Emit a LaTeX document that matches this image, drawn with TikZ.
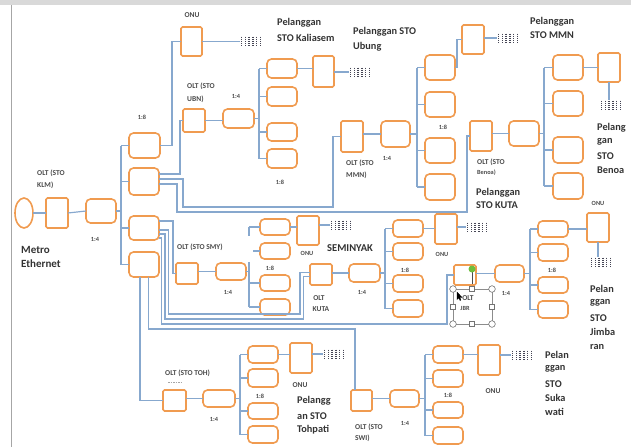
\documentclass[tikz,border=0pt]{standalone}
\usepackage{fontspec}
\setmainfont{Carlito}
\usetikzlibrary{calc,shapes.geometric}
\definecolor{org}{RGB}{240,155,80}
\definecolor{lnc}{RGB}{135,168,206}
\definecolor{txt}{RGB}{75,75,75}
\definecolor{dotc}{RGB}{70,70,85}
\definecolor{grn}{RGB}{110,190,60}
\newcommand\bx[6]{\node[#1,minimum width={(#5-#3)*1pt},minimum height={(#6-#4)*1pt}] (#2) at ({(#3+#5)/2},{(#4+#6)/2}) {};}
\newcommand\cu[3]{\node[cust] (#1) at (#2,#3) {};}
\begin{document}
\begin{tikzpicture}[x=1pt,y=-1pt,
 spl/.style={draw=org,line width=1.6pt,rounded corners=4.5pt,inner sep=0,outer sep=0,fill=white},
 onub/.style={draw=org,line width=1.6pt,rounded corners=1.5pt,inner sep=0,outer sep=0,fill=white},
 ln/.style={draw=lnc,line width=1.2pt},
 lbl/.style={text=txt,font=\fontsize{7.5}{8}\selectfont\bfseries,inner sep=0},
 tiny/.style={text=txt,font=\fontsize{6.3}{7}\selectfont\bfseries,inner sep=0},
 big/.style={text=black!80,font=\fontsize{10.3}{12}\selectfont\bfseries,inner sep=0,anchor=west},
 cust/.style={minimum width=22pt,minimum height=10pt,inner sep=0,outer sep=0,fill=white,
   path picture={\foreach \i in {0,...,5}{\draw[dotc,line width=1.4pt,dash pattern=on 1.3pt off 0.9pt]
     ([xshift={1.5pt+\i*3.8pt},yshift=-0.5pt]path picture bounding box.north west) --
     ([xshift={1.5pt+\i*3.8pt},yshift=0.5pt]path picture bounding box.south west);}}},
 hnd/.style={draw=black!55,line width=0.6pt,fill=white}]
\useasboundingbox (0,0) rectangle (631,447);
\fill[black!15] (0,0) rectangle (631,5);
\draw[black!35,line width=1pt] (11,5) -- (11,447);

% ---------- boxes ----------
\node[draw=org,line width=1.6pt,ellipse,minimum width=18pt,minimum height=30pt,inner sep=0,outer sep=0] (me) at (24,213) {};
\bx{onub}{klm}{46}{198}{68}{228}
\bx{spl}{k14}{86}{199}{116}{223}
\bx{spl}{kb1}{129}{133}{160}{158}
\bx{spl}{kb2}{129}{168}{159}{195}
\bx{spl}{kb3}{129}{216}{159}{240}
\bx{spl}{kb4}{129}{252}{159}{277}
\bx{onub}{onutop}{181}{27}{202}{56}
% UBN
\bx{onub}{ubn}{183}{109}{205}{132}
\bx{spl}{u14}{223}{109}{254}{128}
\bx{spl}{u1}{267}{59}{297}{78}
\bx{spl}{u2}{267}{87}{297}{106}
\bx{spl}{u3}{267}{123}{297}{141}
\bx{spl}{u4}{267}{149}{297}{168}
\bx{onub}{uonu}{313}{56}{334}{87}
% MMN
\bx{onub}{mmn}{341}{121}{363}{152}
\bx{spl}{m14}{381}{121}{410}{147}
\bx{spl}{m1}{425}{55}{455}{80}
\bx{spl}{m2}{425}{92}{455}{117}
\bx{spl}{m3}{425}{138}{455}{163}
\bx{spl}{m4}{425}{174}{455}{200}
\bx{onub}{monu}{462}{25}{484}{54}
% Benoa
\bx{onub}{ben}{470}{121}{492}{151}
\bx{spl}{b14}{509}{121}{539}{146}
\bx{spl}{be1}{553}{55}{583}{80}
\bx{spl}{be2}{553}{91}{583}{116}
\bx{spl}{be3}{553}{137}{583}{163}
\bx{spl}{be4}{553}{173}{583}{199}
\bx{onub}{bonu}{598}{53}{620}{82}
% SMY
\bx{onub}{smy}{176}{263}{198}{284}
\bx{spl}{s14}{216}{263}{246}{280}
\bx{spl}{s1}{260}{219}{290}{235}
\bx{spl}{s2}{260}{243}{290}{259}
\bx{spl}{s3}{260}{275}{290}{291}
\bx{spl}{s4}{260}{299}{290}{315}
\bx{onub}{sonu}{297}{216}{319}{245}
% KUTA
\bx{onub}{kuta}{310}{264}{332}{285}
\bx{spl}{t14}{349}{264}{380}{282}
\bx{spl}{t1}{393}{220}{423}{237}
\bx{spl}{t2}{393}{243}{423}{260}
\bx{spl}{t3}{393}{275}{423}{292}
\bx{spl}{t4}{393}{300}{423}{317}
\bx{onub}{konu}{435}{214}{457}{244}
% JBR
\bx{onub}{jbr}{454}{265}{476}{285}
\bx{spl}{j14}{495}{265}{524}{282}
\bx{spl}{j1}{538}{221}{568}{237}
\bx{spl}{j2}{538}{244}{568}{261}
\bx{spl}{j3}{538}{277}{568}{293}
\bx{spl}{j4}{538}{301}{568}{318}
\bx{onub}{jonu}{587}{213}{609}{242}
% TOH
\bx{onub}{toh}{163}{390}{186}{411}
\bx{spl}{h14}{203}{390}{235}{407}
\bx{spl}{h1}{248}{346}{278}{363}
\bx{spl}{h2}{248}{369}{278}{387}
\bx{spl}{h3}{248}{403}{278}{419}
\bx{spl}{h4}{248}{426}{278}{443}
\bx{onub}{honu}{290}{343}{312}{373}
% SWI
\bx{onub}{swi}{351}{390}{372}{411}
\bx{spl}{w14}{390}{390}{419}{407}
\bx{spl}{w1}{433}{346}{463}{363}
\bx{spl}{w2}{433}{370}{463}{387}
\bx{spl}{w3}{433}{402}{463}{418}
\bx{spl}{w4}{433}{427}{463}{444}
\bx{onub}{wonu}{478}{345}{500}{375}

% ---------- customer symbols ----------
\cu{d1}{251}{41}
\cu{d2}{360}{72}
\cu{d3}{508}{38}
\cu{d4}{611}{105}
\cu{d5}{341}{225}
\cu{d6}{477}{227}
\cu{d7}{601}{262}
\cu{d8}{334}{354}
\cu{d9}{522}{355}

% ---------- connectors ----------
\draw[ln] (me.east) -- (klm.west);
\draw[ln] (klm.east) -- (k14.west);
\coordinate (kbus) at (121,211);
\draw[ln] (k14.east) -- (kbus);
\draw[ln] (kbus |- kb1.west) -- (kbus |- kb4.west);
\foreach \b in {kb1,kb2,kb3,kb4} \draw[ln] (kbus |- \b.west) -- (\b.west);
\draw[ln] (kb1.east) -- ++(12,0) |- (onutop.west);
\draw[ln] (onutop.east) -- (onutop.east -| d1.west);
\draw[ln] ([yshift=-6pt]kb2.north east) -- (180,174) |- (ubn.west);
\draw[ln] ([yshift=-11pt]kb2.north east) -- (183,179) -- (183,207) -- (333,207) |- (mmn.west);
\draw[ln] ([yshift=-16pt]kb2.north east) -- (177,184) -- (177,212) -- (467,212) |- (ben.west);
\draw[ln] ([yshift=-5pt]kb3.north east) -- (173,221) |- (smy.west);
\draw[ln] ([yshift=-14pt]kb3.north east) -- (168.5,230) -- (168.5,314) -- (300,314) |- ([yshift=2pt]kuta.west);
\draw[ln] ([yshift=-18pt]kb3.north east) -- (165,234) -- (165,319) -- (303.5,319) |- ([yshift=-2pt]kuta.west);
\draw[ln] ([yshift=-22pt]kb3.north east) -- (161.5,238) -- (161.5,324) -- (447,324) |- (jbr.west);
\draw[ln] ([xshift=4.5pt]kb4.south) -- (148.5,329) -- (355,329) -- ([xshift=-6.5pt]swi.north);
\draw[ln] ([xshift=-4pt]kb4.south) |- (toh.west);
% UBN
\coordinate (ubus) at (259,0);
\draw[ln] (ubn.east) -- (ubn.east -| u14.west);
\draw[ln] (u14.east) -- (ubus |- u14.east);
\draw[ln] (ubus |- u1.west) -- (ubus |- u4.west);
\foreach \b in {u1,u2,u3,u4} \draw[ln] (ubus |- \b.west) -- (\b.west);
\draw[ln] (u1.east) -- (u1.east -| uonu.west);
\draw[ln] (uonu.east |- d2.west) -- (d2.west);
% MMN
\coordinate (mbus) at (417,0);
\draw[ln] (mmn.east |- m14.west) -- (m14.west);
\draw[ln] (m14.east) -- (mbus |- m14.east);
\draw[ln] (mbus |- m1.west) -- (mbus |- m4.west);
\foreach \b in {m1,m2,m3,m4} \draw[ln] (mbus |- \b.west) -- (\b.west);
\draw[ln] (m1.east) -- (457,67.5) |- (monu.west);
\draw[ln] (monu.east |- d3.west) -- (d3.west);
% Benoa
\coordinate (bbus) at (544,0);
\draw[ln] (ben.east |- b14.west) -- (b14.west);
\draw[ln] (b14.east) -- (bbus |- b14.east);
\draw[ln] (bbus |- be1.west) -- (bbus |- be4.west);
\foreach \b in {be1,be2,be3,be4} \draw[ln] (bbus |- \b.west) -- (\b.west);
\draw[ln] (be1.east) -- (be1.east -| bonu.west);
\draw[ln] (bonu.south) -- (bonu.south |- d4.north);
% SMY
\coordinate (sbus) at (249,0);
\draw[ln] (smy.east |- s14.west) -- (s14.west);
\draw[ln] (s14.east) -- (sbus |- s14.east);
\draw[ln] (sbus |- s1.west) -- ($(sbus |- s1.west)+(0,9)$);
\draw[ln] (249,262) -- (sbus |- s4.west);
\draw[ln] (sbus |- s1.west) -- (s1.west);
\draw[ln] ($(sbus |- s2.west)+(4,0)$) -- (s2.west);
\draw[ln] (sbus |- s3.west) -- (s3.west);
\draw[ln] (sbus |- s4.west) -- (s4.west);
\draw[ln] (s1.east) -- (s1.east -| sonu.west);
\draw[ln] (sonu.east |- d5.west) -- (d5.west);
% KUTA
\coordinate (tbus) at (385,0);
\draw[ln] (kuta.east |- t14.west) -- (t14.west);
\draw[ln] (t14.east) -- (tbus |- t14.east);
\draw[ln] (tbus |- t1.west) -- (tbus |- t4.west);
\foreach \b in {t1,t2,t3,t4} \draw[ln] (tbus |- \b.west) -- (\b.west);
\draw[ln] (t1.east) -- (t1.east -| konu.west);
\draw[ln] (konu.east |- d6.west) -- (d6.west);
% JBR
\coordinate (jbus) at (530,0);
\draw[ln] (jbr.east |- j14.west) -- (j14.west);
\draw[ln] (j14.east) -- (jbus |- j14.east);
\draw[ln] (jbus |- j1.west) -- (jbus |- j4.west);
\foreach \b in {j1,j2,j3,j4} \draw[ln] (jbus |- \b.west) -- (\b.west);
\draw[ln] (j1.east) -- (j1.east -| jonu.west);
\draw[ln] (jonu.south) -- (jonu.south |- d7.north);
% TOH
\coordinate (hbus) at (240,0);
\draw[ln] (toh.east |- h14.west) -- (h14.west);
\draw[ln] (h14.east) -- (hbus |- h14.east);
\draw[ln] (hbus |- h1.west) -- (hbus |- h4.west);
\foreach \b in {h1,h2,h3,h4} \draw[ln] (hbus |- \b.west) -- (\b.west);
\draw[ln] (h1.east) -- (h1.east -| honu.west);
\draw[ln] (honu.east |- d8.west) -- (d8.west);
% SWI
\coordinate (wbus) at (425,0);
\draw[ln] (swi.east |- w14.west) -- (w14.west);
\draw[ln] (w14.east) -- (wbus |- w14.east);
\draw[ln] (wbus |- w1.west) -- (wbus |- w4.west);
\foreach \b in {w1,w2,w3,w4} \draw[ln] (wbus |- \b.west) -- (\b.west);
\draw[ln] (w1.east) -- (w1.east -| wonu.west);
\draw[ln] (wonu.east |- d9.west) -- (d9.west);

% ---------- selection handles (JBR) ----------
\draw[black!45,line width=0.5pt] (453,289) rectangle (492,324);
\draw[black!70,line width=0.5pt] (472,272) -- (472,284);
\foreach \hx/\hy in {453/289,492/289,453/324,492/324} \draw[hnd] (\hx,\hy) circle (3.3);
\foreach \hx/\hy in {472/289,453/307,492/307,472/324} \draw[hnd] ({\hx-2.5},{\hy-2.5}) rectangle ({\hx+2.5},{\hy+2.5});
\fill[grn] (472,269) circle (3.5);
\draw[line width=0.3pt,fill=black] (457,292) -- (457,299.5) -- (458.8,297.8) -- (460,300.5) -- (460.9,300) -- (459.8,297.4) -- (462,297.4) -- cycle;

% ---------- labels ----------
\node[lbl] (lonu1) at (192,15) {ONU};
\node[lbl,anchor=west] (lubn1) at (187,86) {OLT (STO};
\node[lbl,anchor=west] (lubn2) at (187,99) {UBN)};
\node[tiny] (lk18) at (142,117) {1:8};
\node[tiny] (lu14) at (236,96) {1:4};
\node[big] (pk1) at (277,23) {Pelanggan};
\node[big] (pk2) at (277,38) {STO Kaliasem};
\node[big] (pu1) at (353,32) {Pelanggan STO};
\node[big] (pu2) at (353,47) {Ubung};
\node[tiny] (lu18) at (280,182) {1:8};
\node[lbl,anchor=west] (lm1) at (346,163) {OLT (STO};
\node[lbl,anchor=west] (lm2) at (346,175) {MMN)};
\node[tiny] (lm14) at (387,158) {1:4};
\node[big] (pm1) at (530,22) {Pelanggan};
\node[big] (pm2) at (530,35) {STO MMN};
\node[tiny] (lm18) at (443,127) {1:8};
\node[lbl,anchor=west] (lb1) at (477,162) {OLT (STO};
\node[tiny,anchor=west] (lb2) at (477,173) {Benoa)};
\node[big] (pku1) at (476,193) {Pelanggan};
\node[big] (pku2) at (476,205) {STO KUTA};
\node[big] (pb1) at (597,128) {Pelang};
\node[big] (pb2) at (597,142) {gan};
\node[big] (pb3) at (597,156) {STO};
\node[big] (pb4) at (597,170) {Benoa};
\node[lbl,anchor=west] (lk1) at (37,173) {OLT (STO};
\node[lbl,anchor=west] (lk2) at (37,185) {KLM)};
\node[tiny] (lk14) at (95,239) {1:4};
\node[big,font=\fontsize{11}{13}\selectfont\bfseries] (lme1) at (21,250) {Metro};
\node[big,font=\fontsize{11}{13}\selectfont\bfseries] (lme2) at (21,264) {Ethernet};
\node[lbl,anchor=west] (ls1) at (177,247) {OLT (STO SMY)};
\node[tiny] (ls14) at (228,292) {1:4};
\node[tiny] (ls18) at (270,268) {1:8};
\node[tiny] (lsonu) at (307,253) {ONU};
\node[big,font=\fontsize{10.5}{12}\selectfont\bfseries] (lsem) at (327,248) {SEMINYAK};
\node[lbl] (lt1) at (319,298) {OLT};
\node[lbl] (lt2) at (321,309) {KUTA};
\node[tiny] (lt14) at (362,292) {1:4};
\node[tiny] (lt18) at (405,270) {1:8};
\node[tiny] (ltonu) at (442,254) {ONU};
\node[lbl] (lj1) at (468,298) {OLT};
\node[tiny] (lj2) at (465,308) {JBR};
\node[tiny] (lj14) at (506,293) {1:4};
\node[tiny] (lj18) at (552,270) {1:8};
\node[tiny] (ljonu) at (598,203) {ONU};
\node[big] (pj1) at (590,289) {Pelan};
\node[big] (pj2) at (590,303) {ggan};
\node[big] (pj3) at (590,318) {STO};
\node[big] (pj4) at (590,332) {Jimba};
\node[big] (pj5) at (590,347) {ran};
\node[lbl,anchor=west] (lh1) at (165,373) {OLT (STO TOH)};
\draw[black!35,line width=0.5pt,dash pattern=on 1.5pt off 1pt] (168,382) -- (182,382);
\node[tiny] (lh14) at (214,419) {1:4};
\node[tiny] (lh18) at (260,396) {1:8};
\node[lbl] (lhonu) at (300,385) {ONU};
\node[big] (ph1) at (297,401) {Pelangg};
\node[big] (ph2) at (297,416) {an STO};
\node[big] (ph3) at (297,430) {Tohpati};
\node[lbl,anchor=west] (lw1) at (355,427) {OLT (STO};
\node[lbl,anchor=west] (lw2) at (355,438) {SWI)};
\node[tiny] (lw14) at (405,423) {1:4};
\node[tiny] (lw18) at (448,395) {1:8};
\node[lbl] (lwonu) at (493,391) {ONU};
\node[big] (pw1) at (545,355) {Pelan};
\node[big] (pw2) at (545,369) {ggan};
\node[big] (pw3) at (545,384) {STO};
\node[big] (pw4) at (545,398) {Suka};
\node[big] (pw5) at (545,412) {wati};
\end{tikzpicture}
\end{document}
